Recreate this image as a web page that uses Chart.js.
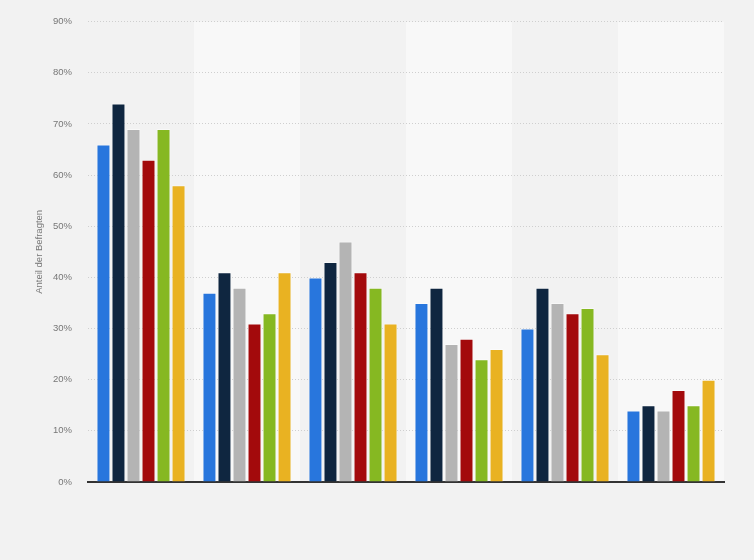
<!DOCTYPE html>
<html>
<head>
<meta charset="utf-8">
<script src="https://cdn.jsdelivr.net/npm/chart.js@4"></script>
<style>
  html, body { margin: 0; padding: 0; background: #f2f2f2; }
  #wrap { width: 754px; height: 560px; position: relative; }
</style>
</head>
<body>
<div id="wrap"><canvas id="c" width="754" height="560"></canvas></div>
<script>
const categories = ["Kategorie 1", "Kategorie 2", "Kategorie 3", "Kategorie 4", "Kategorie 5", "Kategorie 6"];
const seriesNames = ["Serie 1", "Serie 2", "Serie 3", "Serie 4", "Serie 5", "Serie 6"];
const serie1 = [66, 37, 40, 35, 30, 14];
const serie2 = [74, 41, 43, 38, 38, 15];
const serie3 = [69, 38, 47, 27, 35, 14];
const serie4 = [63, 31, 41, 28, 33, 18];
const serie5 = [69, 33, 38, 24, 34, 15];
const serie6 = [58, 41, 31, 26, 25, 20];
const yTicks = [0, 10, 20, 30, 40, 50, 60, 70, 80, 90];
const colors = ["#2876dd", "#0f2640", "#b4b4b4", "#a30a0c", "#86b822", "#e9b222"];
const seriesValues = [serie1, serie2, serie3, serie4, serie5, serie6];

const bandPlugin = {
  id: 'bands',
  beforeDraw(chart) {
    const { ctx, chartArea, scales } = chart;
    const x = scales.x;
    ctx.save();
    for (let i = 0; i < categories.length; i++) {
      if (i % 2 === 1) {
        const left = x.getPixelForValue(i) - (x.getPixelForValue(1) - x.getPixelForValue(0)) / 2;
        const w = x.getPixelForValue(1) - x.getPixelForValue(0);
        ctx.fillStyle = '#f8f8f8';
        ctx.fillRect(left, chartArea.top, w, chartArea.bottom - chartArea.top);
      }
    }
    ctx.restore();
  }
};

new Chart(document.getElementById('c'), {
  type: 'bar',
  data: {
    labels: categories,
    datasets: seriesValues.map((vals, i) => ({
      label: seriesNames[i],
      data: vals,
      backgroundColor: colors[i],
      borderColor: 'rgba(255,255,255,0.45)',
      borderWidth: 1,
      categoryPercentage: 0.85,
      barPercentage: 0.93
    }))
  },
  options: {
    responsive: false,
    animation: false,
    devicePixelRatio: 1,
    layout: { padding: { top: 20, right: 30, bottom: 78, left: 0 } },
    plugins: { legend: { display: false }, tooltip: { enabled: false } },
    scales: {
      x: {
        ticks: { display: false },
        grid: { display: false, drawTicks: false },
        border: { display: true, color: '#333333', width: 2 }
      },
      y: {
        min: 0,
        max: 90,
        afterFit(scale) { scale.width = 88; },
        afterBuildTicks(scale) { scale.ticks = yTicks.map(v => ({ value: v })); },
        ticks: {
          padding: 16,
          color: '#777777',
          font: { family: 'Arial, Liberation Sans, sans-serif', size: 9.5 },
          callback: v => v + '%'
        },
        grid: {
          color: '#cfcfcf',
          lineWidth: 1,
          drawTicks: false
        },
        border: { display: false, dash: [1, 2] },
        title: {
          display: true,
          text: 'Anteil der Befragten',
          color: '#777777',
          font: { family: 'Arial, Liberation Sans, sans-serif', size: 9.5 },
          padding: { top: 34, bottom: 0 }
        }
      }
    }
  },
  plugins: [bandPlugin]
});
</script>
</body>
</html>
